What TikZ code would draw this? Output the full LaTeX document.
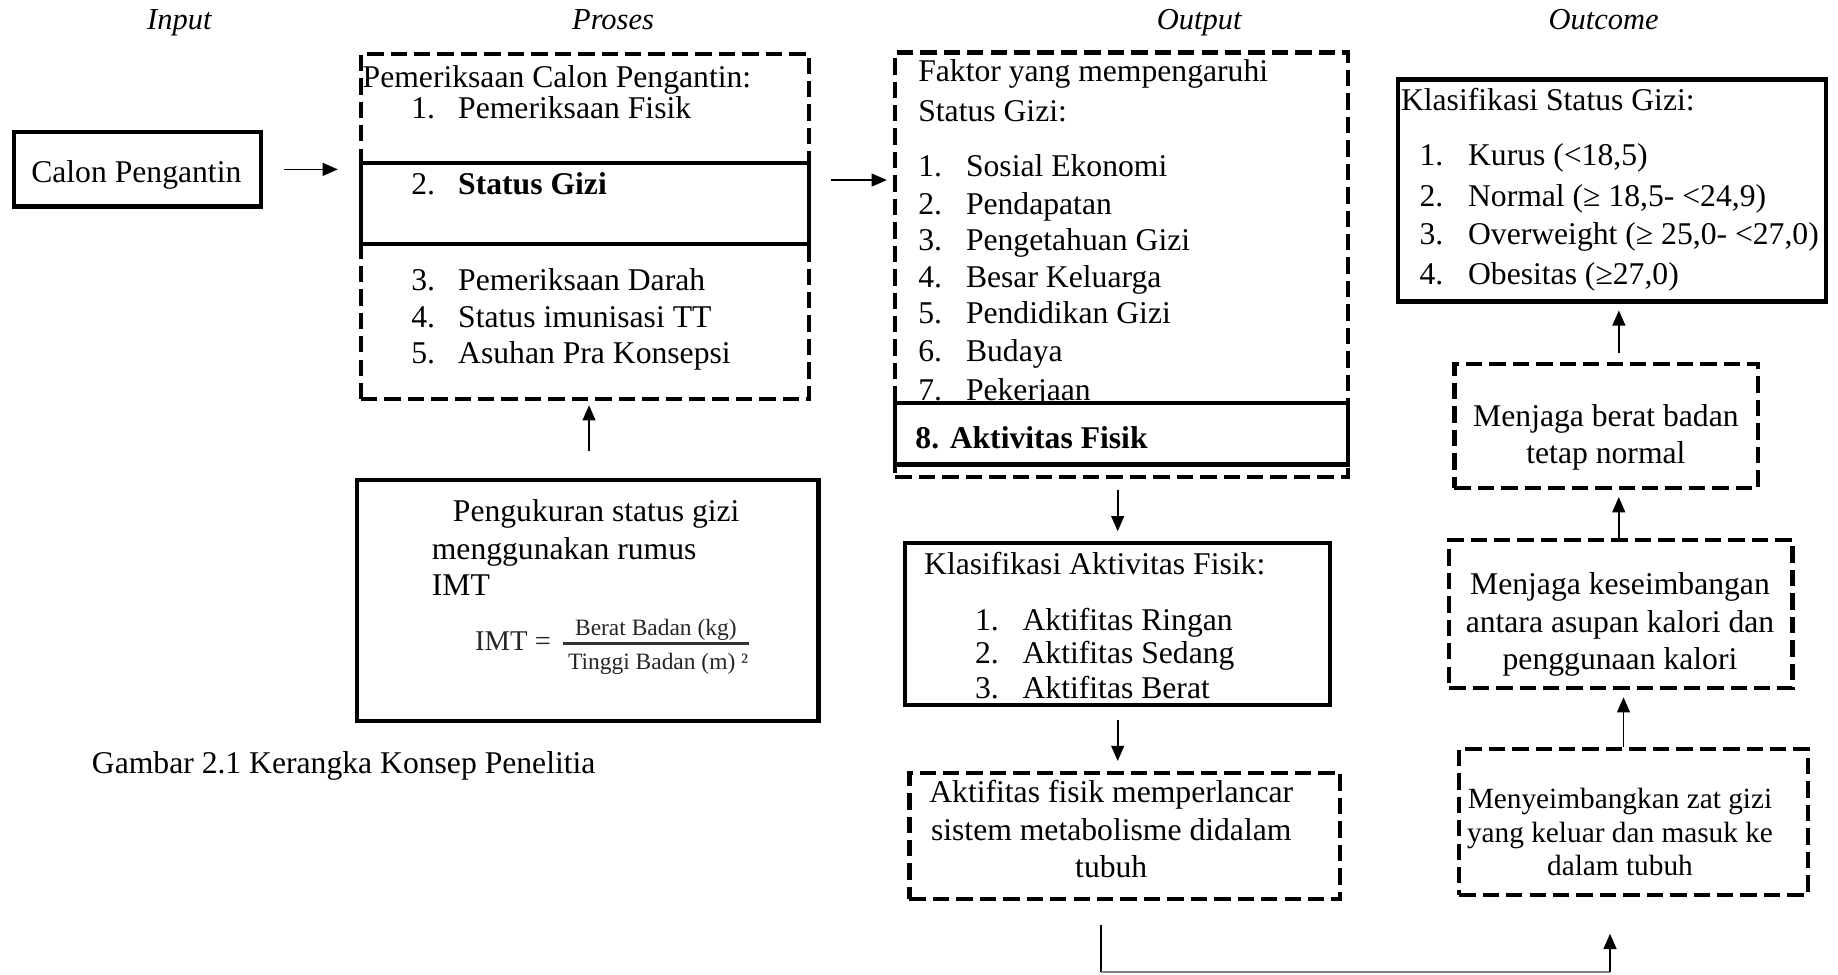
\documentclass[tikz,border=0pt]{standalone}
\usepackage{fontspec}
\setmainfont{Liberation Serif}
\usetikzlibrary{arrows.meta}
\begin{document}
\begin{tikzpicture}[x=0.5pt,y=-0.5pt,
  txt/.style={inner sep=0pt, anchor=base west, font=\fontsize{13.5}{15.5}\selectfont},
  ctxt/.style={inner sep=0pt, anchor=base, font=\fontsize{13.5}{15.5}\selectfont},
  stxt/.style={inner sep=0pt, anchor=base, font=\fontsize{12.5}{14.5}\selectfont},
  hdr/.style={inner sep=0pt, anchor=base, font=\fontsize{13}{15}\selectfont\itshape},
  frm/.style={inner sep=0pt, text=black!85},
  solidbox/.style={draw, line width=1.8pt, inner sep=0pt},
  dashbox/.style={draw, line width=1.8pt, dash pattern=on 7pt off 3pt, inner sep=0pt},
  arr/.style={line width=0.7pt, -{Triangle[length=6.5pt,width=5.5pt]}},
  plain/.style={line width=0.7pt},
]
\useasboundingbox (0,0) rectangle (1568,831);

% headers
\node[hdr] (hin) at (153,25.5) {Input};
\node[hdr] (hpr) at (523,25.5) {Proses};
\node[hdr] (hout) at (1023,25.5) {Output};
\node[hdr] (hoc) at (1368,25.5) {Outcome};

% Input
\node[solidbox, minimum width=105.5pt, minimum height=31.7pt] (calon) at (117.3,144.5) {};
\node[ctxt] (calont) at (116.3,156) {Calon Pengantin};

% Proses
\node[dashbox, minimum width=191.2pt, minimum height=147.3pt] (proses) at (499,193.4) {};
\node[solidbox, minimum width=191.2pt, minimum height=34.7pt] (sgizi) at (499,173.5) {};
\node[txt] (p0) at (309,74.5) {Pemeriksaan Calon Pengantin:};
\node[txt] (p1n) at (350.5,101.5) {1.};
\node[txt] (p1) at (390.5,101.5) {Pemeriksaan Fisik};
\node[txt] (p2n) at (350.5,166) {2.};
\node[txt] (p2) at (390.5,166) {\bfseries Status Gizi};
\node[txt] (p3n) at (350.5,248) {3.};
\node[txt] (p3) at (390.5,248) {Pemeriksaan Darah};
\node[txt] (p4n) at (350.5,279) {4.};
\node[txt] (p4) at (390.5,279) {Status imunisasi TT};
\node[txt] (p5n) at (350.5,310) {5.};
\node[txt] (p5) at (390.5,310) {Asuhan Pra Konsepsi};

% Pengukuran
\node[solidbox, minimum width=196.7pt, minimum height=102.7pt] (peng) at (501.5,512.5) {};
\node[txt] (g1) at (386,445) {Pengukuran status gizi};
\node[txt] (g2) at (368,477) {menggunakan rumus};
\node[txt] (g3) at (368,508) {IMT};
\node[frm, anchor=base west, font=\fontsize{12.2}{13}\selectfont] (imt) at (405,555) {IMT =};
\node[frm, anchor=base, font=\fontsize{10}{11}\selectfont] (num) at (559.5,542.5) {Berat Badan (kg)};
\node[frm, anchor=base, font=\fontsize{10}{11}\selectfont] (den) at (561.5,571.5) {Tinggi Badan (m) ²};
\coordinate (fl) at (480,549);
\coordinate (fr) at (639,549);
\draw[line width=0.9pt, black!80] (fl) -- (fr);

% caption
\node[txt] (cap) at (78,659.7) {Gambar 2.1 Kerangka Konsep Penelitia};

% Output
\node[dashbox, minimum width=193.2pt, minimum height=181.2pt] (output) at (957,226) {};
\node[txt] (o0) at (783,69.7) {Faktor yang mempengaruhi};
\node[txt] (o0b) at (783,104) {Status Gizi:};
\node[txt] (o1n) at (783,150.7) {1.};
\node[txt] (o1) at (823.7,150.7) {Sosial Ekonomi};
\node[txt] (o2n) at (783,183.4) {2.};
\node[txt] (o2) at (823.7,183.4) {Pendapatan};
\node[txt] (o3n) at (783,213.5) {3.};
\node[txt] (o3) at (823.7,213.5) {Pengetahuan Gizi};
\node[txt] (o4n) at (783,245) {4.};
\node[txt] (o4) at (823.7,245) {Besar Keluarga};
\node[txt] (o5n) at (783,276) {5.};
\node[txt] (o5) at (823.7,276) {Pendidikan Gizi};
\node[txt] (o6n) at (783,308.5) {6.};
\node[txt] (o6) at (823.7,308.5) {Budaya};
\node[txt] (o7n) at (783,341.5) {7.};
\node[txt] (o7) at (823.7,341.5) {Pekerjaan};
\node[solidbox, fill=white, minimum width=193.2pt, minimum height=26.2pt] (aktfis) at (957,370) {};
\node[txt] (o8) at (780.6,383) {\bfseries 8. Aktivitas Fisik};

% Klasifikasi aktivitas
\node[solidbox, minimum width=181.2pt, minimum height=68.95pt] (klasakt) at (953.5,532.25) {};
\node[txt] (k0) at (788,490) {Klasifikasi Aktivitas Fisik:};
\node[txt] (k1n) at (831.5,537.5) {1.};
\node[txt] (k1) at (872,537.5) {Aktifitas Ringan};
\node[txt] (k2n) at (831.5,566) {2.};
\node[txt] (k2) at (872,566) {Aktifitas Sedang};
\node[txt] (k3n) at (831.5,595.7) {3.};
\node[txt] (k3) at (872,595.7) {Aktifitas Berat};

% metabolisme
\node[dashbox, minimum width=183.7pt, minimum height=53.95pt] (metab) at (959.5,713.25) {};
\node[ctxt] (m1) at (948,685) {Aktifitas fisik memperlancar};
\node[ctxt] (m2) at (948,717) {sistem metabolisme didalam};
\node[ctxt] (m3) at (948,749) {tubuh};

% Outcome column
\node[solidbox, minimum width=182.45pt, minimum height=94.7pt] (klasgizi) at (1375.25,162.5) {};
\node[txt] (s0) at (1194.8,94) {Klasifikasi Status Gizi:};
\node[txt] (s1n) at (1210.6,141.5) {1.};
\node[txt] (s1) at (1252,141.5) {Kurus (<18,5)};
\node[txt] (s2n) at (1210.6,176) {2.};
\node[txt] (s2) at (1252,176) {Normal (≥ 18,5- <24,9)};
\node[txt] (s3n) at (1210.6,209) {3.};
\node[txt] (s3) at (1252,209) {Overweight (≥ 25,0- <27,0)};
\node[txt] (s4n) at (1210.6,242.5) {4.};
\node[txt] (s4) at (1252,242.5) {Obesitas (≥27,0)};

\node[dashbox, minimum width=129.45pt, minimum height=52.95pt] (berat) at (1370.25,363.25) {};
\node[ctxt] (b1t) at (1370,363.5) {Menjaga berat badan};
\node[ctxt] (b2t) at (1370,395.5) {tetap normal};

\node[dashbox, minimum width=146.45pt, minimum height=63.2pt] (kesei) at (1382.75,524) {};
\node[ctxt] (e1) at (1382,507.5) {Menjaga keseimbangan};
\node[ctxt] (e2) at (1382,539.5) {antara asupan kalori dan};
\node[ctxt] (e3) at (1382,571) {penggunaan kalori};

\node[dashbox, minimum width=148.7pt, minimum height=62.2pt] (menyeim) at (1393.5,701) {};
\node[stxt] (n1) at (1382,690) {Menyeimbangkan zat gizi};
\node[stxt] (n2) at (1382,718.5) {yang keluar dan masuk ke};
\node[stxt] (n3) at (1382,746.5) {dalam tubuh};

% connectors
\draw[arr, shorten <=8.85pt, shorten >=8.9pt] (calon.east) -- (calon.east -| proses.west);
\draw[arr, shorten <=8.4pt, shorten >=2.7pt] ([yshift=19.9pt]proses.east) -- ([yshift=19.9pt]proses.east -| output.west);
\draw[arr, shorten <=11.5pt, shorten >=1.6pt] ([xshift=0.5pt]peng.north) -- ([xshift=0.5pt]peng.north |- proses.south);
\draw[arr, shorten <=4.7pt, shorten >=4.15pt] (klasakt.north |- output.south) -- (klasakt.north);
\draw[arr, shorten <=5.8pt, shorten >=4.15pt] (klasakt.south) -- (klasakt.south |- metab.north);
\coordinate (c1) at (939,829);
\coordinate (c2) at (1373.5,829);
\draw[plain, shorten <=10.2pt] (c1 |- metab.south) -- (c1);
\draw[line width=0.7pt, draw=black!50] (c1) -- (c2);
\draw[arr, shorten >=15.8pt] (c2) -- (c2 |- menyeim.south);
\draw[arr, shorten >=2.9pt] ([xshift=-4.25pt]menyeim.north) -- ([xshift=-4.25pt]menyeim.north |- kesei.south);
\draw[arr, shorten >=3pt] ([xshift=-0.9pt]kesei.north) -- ([xshift=-0.9pt]kesei.north |- berat.south);
\draw[arr, shorten <=3.65pt, shorten >=2.9pt] ([xshift=2.9pt]klasgizi.south |- berat.north) -- ([xshift=2.9pt]klasgizi.south);
\end{tikzpicture}
\end{document}
